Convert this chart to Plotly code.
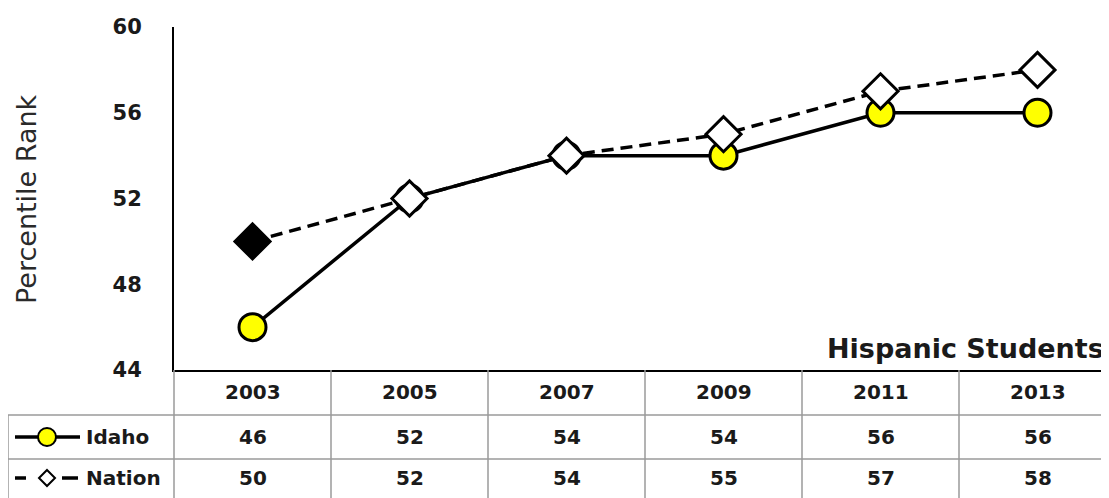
import plotly.graph_objects as go

years = ["2003", "2005", "2007", "2009", "2011", "2013"]
idaho = [46, 52, 54, 54, 56, 56]
nation = [50, 52, 54, 55, 57, 58]
y_ticks = [44, 48, 52, 56, 60]

# The page body adds an 8px margin; work in reference pixels and shift.
OFF = 8
W, H = 1109 - OFF, 498 - OFF
L, R, T = 174 - OFF, 0, 27 - OFF
AX_BOTTOM = 370 - OFF
B = H - AX_BOTTOM
PW = W - L - R
PH = H - T - B
col_w = 157.0  # pixel width of one category column
x_range = [-0.5, -0.5 + PW / col_w]

def px_x(p):
    return (p - OFF - L) / PW

def px_y(p):
    return (AX_BOTTOM - (p - OFF)) / PH

xs = list(range(len(years)))
FONT = "DejaVu Sans"

fig = go.Figure()

idaho_fill = ["#ffffff" if a == b else "#ffff00" for a, b in zip(idaho, nation)]
nation_fill = ["#000000"] + ["#ffffff"] * (len(nation) - 1)

fig.add_trace(go.Scatter(
    x=xs, y=idaho, mode="lines+markers", name="Idaho",
    line=dict(color="black", width=3.5),
    marker=dict(symbol="circle", size=27, color=idaho_fill,
                line=dict(color="black", width=3)),
    cliponaxis=False, showlegend=False,
))
fig.add_trace(go.Scatter(
    x=xs, y=nation, mode="lines+markers", name="Nation",
    line=dict(color="black", width=3.5, dash="12px,7px"),
    marker=dict(symbol="diamond", size=27, color=nation_fill,
                line=dict(color="black", width=3)),
    cliponaxis=False, showlegend=False,
))

shapes = []
grey = "#9a9a9a"
# table vertical lines
shapes.append(dict(type="line", xref="paper", yref="paper", x0=0, x1=0,
                   y0=px_y(370), y1=px_y(498), line=dict(color=grey, width=1.5)))
for i in range(len(years)):
    shapes.append(dict(type="line", xref="x", yref="paper", x0=i + 0.5, x1=i + 0.5,
                       y0=px_y(370), y1=px_y(498), line=dict(color=grey, width=1.5)))
shapes.append(dict(type="line", xref="paper", yref="paper", x0=px_x(8), x1=px_x(8),
                   y0=px_y(415), y1=px_y(498), line=dict(color=grey, width=1.5)))
for yy in [415, 459]:
    shapes.append(dict(type="line", xref="paper", yref="paper", x0=px_x(8), x1=1,
                       y0=px_y(yy), y1=px_y(yy), line=dict(color=grey, width=1.5)))

# legend glyphs in table
iy = px_y(437)
shapes.append(dict(type="line", xref="paper", yref="paper", x0=px_x(15), x1=px_x(80),
                   y0=iy, y1=iy, line=dict(color="black", width=3.5)))
shapes.append(dict(type="circle", xref="paper", yref="paper", xsizemode="pixel",
                   ysizemode="pixel", xanchor=px_x(47), yanchor=iy,
                   x0=-9, x1=9, y0=-9, y1=9, fillcolor="#ffff00",
                   line=dict(color="black", width=2)))
ny = px_y(478)
shapes.append(dict(type="line", xref="paper", yref="paper", x0=px_x(15), x1=px_x(26),
                   y0=ny, y1=ny, line=dict(color="black", width=3.5)))
shapes.append(dict(type="line", xref="paper", yref="paper", x0=px_x(62), x1=px_x(78),
                   y0=ny, y1=ny, line=dict(color="black", width=3.5)))
shapes.append(dict(type="path", xref="paper", yref="paper", xsizemode="pixel",
                   ysizemode="pixel", xanchor=px_x(47), yanchor=ny,
                   path="M 0 8 L 8 0 L 0 -8 L -8 0 Z", fillcolor="white",
                   line=dict(color="black", width=2)))

annotations = []
tfont = dict(family=FONT, size=20, color="#1a1a1a", weight="bold")
for i, yr in enumerate(years):
    annotations.append(dict(x=i, y=px_y(392), xref="x", yref="paper", text=yr,
                            showarrow=False, font=tfont, xanchor="center", yanchor="middle"))
    annotations.append(dict(x=i, y=px_y(437), xref="x", yref="paper", text=str(idaho[i]),
                            showarrow=False, font=tfont, xanchor="center", yanchor="middle"))
    annotations.append(dict(x=i, y=px_y(478), xref="x", yref="paper", text=str(nation[i]),
                            showarrow=False, font=tfont, xanchor="center", yanchor="middle"))
annotations.append(dict(x=px_x(84), y=px_y(437), xref="paper", yref="paper", text="Idaho",
                        showarrow=False, font=tfont, xanchor="left", yanchor="middle"))
annotations.append(dict(x=px_x(84), y=px_y(478), xref="paper", yref="paper", text="Nation",
                        showarrow=False, font=tfont, xanchor="left", yanchor="middle"))
annotations.append(dict(x=px_x(1106), y=px_y(348), xref="paper", yref="paper",
                        text="Hispanic Students", showarrow=False,
                        font=dict(family=FONT, size=27, color="#1a1a1a", weight="bold"),
                        xanchor="right", yanchor="middle"))
annotations.append(dict(x=px_x(26), y=px_y(199), xref="paper", yref="paper",
                        text="Percentile Rank", showarrow=False, textangle=-90,
                        font=dict(family=FONT, size=27, color="#2a2a2a"),
                        xanchor="center", yanchor="middle"))

fig.update_layout(
    width=W, height=H,
    margin=dict(l=L, r=R, t=T, b=B),
    plot_bgcolor="white", paper_bgcolor="white",
    shapes=shapes, annotations=annotations,
    xaxis=dict(range=x_range, showticklabels=False, showgrid=False, zeroline=False,
               showline=True, linecolor="black", linewidth=2, ticks=""),
    yaxis=dict(range=[44, 60], tickvals=y_ticks, showgrid=False, zeroline=False,
               showline=True, linecolor="black", linewidth=2, ticks="",
               ticklabelstandoff=26,
               tickfont=dict(family=FONT, size=21, color="#1a1a1a", weight="bold")),
)

fig.write_html("out.html")
